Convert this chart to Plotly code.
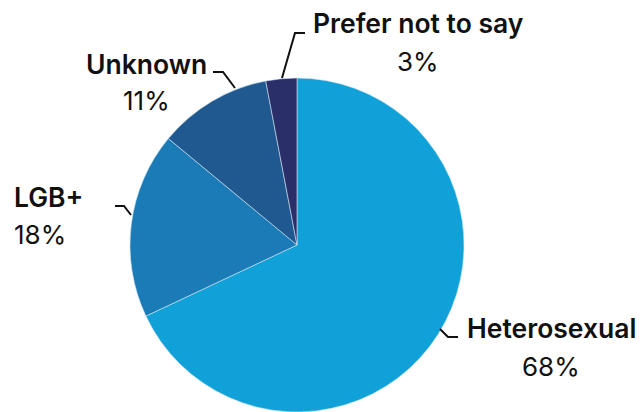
import plotly.graph_objects as go

labels = ["Heterosexual", "LGB+", "Unknown", "Prefer not to say"]
values = [68, 18, 11, 3]
colors = ["#0fa1d7", "#1a7bb7", "#20598f", "#2a2f6a"]

W, H = 640, 412
cx, cy, r = 297, 245, 167
FONT = "Inter"

def px(x):
    return x / W

def py(y):
    return 1 - y / H

fig = go.Figure(go.Pie(
    labels=labels, values=values, sort=False, direction="clockwise",
    marker=dict(colors=colors, line=dict(color="#cfe3f0", width=0.6)),
    textinfo="none", hoverinfo="label+percent", showlegend=False,
    domain=dict(x=[px(cx - r), px(cx + r)], y=[py(cy + r), py(cy - r)]),
))

# label placement in pixels: (x, name y, percent y, anchor)
label_pos = {
    "Heterosexual": (551, 328, 366, "center"),
    "LGB+": (12, 197, 234, "left"),
    "Unknown": (146, 64, 100, "center"),
    "Prefer not to say": (418, 23, 61, "center"),
}
leaders = {
    "Heterosexual": [(440, 329), (448, 337), (458, 337)],
    "LGB+": [(115, 206), (124, 206), (131, 215)],
    "Unknown": [(213, 72), (223, 72), (235, 88)],
    "Prefer not to say": [(305, 33), (295, 33), (282, 78)],
}

total = sum(values)
for lab, val in zip(labels, values):
    x, yn, yp, al = label_pos[lab]
    pct = round(val / total * 100)
    xa = "left" if al == "left" else "center"
    fig.add_annotation(
        x=px(x), y=py(yn), xref="paper", yref="paper",
        xanchor=xa, yanchor="middle", showarrow=False,
        text=lab,
        font=dict(family=FONT, size=26.5, color="#111111", weight=600),
    )
    fig.add_annotation(
        x=px(x), y=py(yp), xref="paper", yref="paper",
        xanchor=xa, yanchor="middle", showarrow=False,
        text=f"{pct}%",
        font=dict(family=FONT, size=26, color="#111111", weight=400),
    )
    pts = leaders[lab]
    path = "M " + " L ".join(f"{px(a)},{py(b)}" for a, b in pts)
    fig.add_shape(type="path", path=path, xref="paper", yref="paper",
                  line=dict(color="#111111", width=2))

fig.update_layout(
    width=W, height=H, margin=dict(l=0, r=0, t=0, b=0),
    paper_bgcolor="white", plot_bgcolor="white",
)
fig.write_html("out.html")
